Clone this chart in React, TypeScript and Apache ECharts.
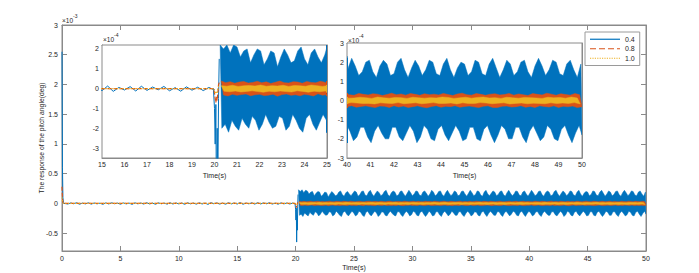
import React, { useEffect, useRef } from 'react';
import * as echarts from 'echarts';

// ---------------- data (values in units of 1e-4 deg) ----------------
const SERIES_NAMES = ['0.4', '0.8', '1.0'];

// initial transient at t = 0
const spikeT = [0, 0.04, 0.08, 0.12, 0.2];
const blueSpike = [25.5, 6, 1, 0.2, 0];
const orangeSpike = [2.8, 0.8, 0.2, 0, 0];
const yellowSpike = [1.0, 0.3, 0.1, 0, 0];

// quiet phase 0.25 .. 19.75 s (blue peaks, step 0.5 s)
const QUIET_START = 0.25;
const QUIET_STEP = 0.5;
const blueQuietUp = [0.05, 0.08, 0.12, 0.06, 0.1, 0.07, 0.04, 0.09, 0.11, 0.06, 0.08, 0.05, 0.1, 0.07, 0.12, 0.06, 0.09, 0.05, 0.11, 0.08, 0.07, 0.1, 0.06, 0.09, 0.05, 0.12, 0.08, 0.06, 0.1, 0.07, 0.13, 0.06, 0.1, 0.12, 0.08, 0.11, 0.05, 0.09, 0.07, 0.06];
const blueQuietLow = [-0.1, -0.06, -0.14, -0.08, -0.12, -0.07, -0.15, -0.09, -0.06, -0.13, -0.08, -0.16, -0.07, -0.11, -0.09, -0.14, -0.06, -0.12, -0.1, -0.08, -0.15, -0.07, -0.12, -0.09, -0.16, -0.06, -0.11, -0.13, -0.08, -0.1, -0.14, -0.07, -0.12, -0.09, -0.06, -0.11, -0.13, -0.08, -0.1, -0.07];
const flatQuietT = [0.2, 19.95];
const orangeQuiet = [0, 0];
const yellowQuiet = [0, 0];

// disturbance at t = 20 s
const transT = [19.95, 20.0, 20.03, 20.06, 20.09, 20.12, 20.15, 20.18, 20.21];
const blueTrans = [0, -1.0, -2.8, -0.8, -6.5, -2.0, -4.5, -0.5, 1.5];
const orangeTrans = [0, -0.2, -0.5, -0.7, -0.4, -0.6, -0.2, 0.2, 0.3];
const yellowTrans = [0, -0.1, -0.2, -0.25, -0.15, -0.2, 0, 0.1, 0.15];

// oscillation 20.25 .. 50 s : peak values of each cycle
const BLUE_OSC_START = 20.25;
const BLUE_OSC_STEP = 0.15;
const blueOscUp = [
  2.3, 2.0, 2.3, 1.8, 2.2, 2.1, 1.6, 1.9, 2.0, 1.3,
  1.7, 2.0, 1.9, 1.2, 1.5, 1.9, 1.8, 1.1, 1.6, 2.0,
  1.7, 1.3, 1.4, 1.9, 2.1, 1.5, 1.2, 1.8, 2.0, 1.6,
  1.3, 1.7, 2.1, 1.9, 1.2, 1.5, 2.0, 2.1, 1.4, 1.3,
  1.9, 2.2, 1.6, 1.2, 1.7, 2.1, 1.8, 1.3, 1.5, 2.0,
  2.2, 1.5, 1.2, 1.8, 2.1, 1.9, 1.3, 1.4, 2.0, 2.1,
  1.6, 1.2, 1.7, 2.2, 1.8, 1.3, 1.6, 2.1, 2.0, 1.4,
  1.3, 1.9, 2.1, 1.7, 1.2, 1.6, 2.2, 1.9, 1.3, 1.5,
  2.0, 2.1, 1.5, 1.2, 1.8, 2.2, 1.7, 1.3, 1.6, 2.1,
  1.9, 1.3, 1.4, 2.0, 2.1, 1.6, 1.2, 1.7, 2.2, 1.8,
  1.3, 1.5, 2.1, 2.0, 1.4, 1.2, 1.9, 2.2, 1.6, 1.3,
  1.7, 2.1, 1.9, 1.3, 1.5, 2.0, 2.1, 1.5, 1.2, 1.8,
  2.2, 1.7, 1.3, 1.6, 2.1, 2.0, 1.4, 1.3, 1.9, 2.1,
  1.6, 1.2, 1.7, 2.2, 1.8, 1.3, 1.5, 2.0, 2.1, 1.5,
  1.2, 1.8, 2.1, 1.9, 1.3, 1.4, 2.0, 2.2, 1.6, 1.2,
  1.7, 2.1, 1.8, 1.3, 1.6, 2.1, 2.0, 1.4, 1.3, 1.9,
  2.2, 1.6, 1.2, 1.7, 2.0, 1.9, 1.3, 1.5, 2.1, 2.0,
  1.4, 1.3, 1.9, 2.2, 1.7, 1.2, 1.6, 2.1, 1.9, 1.3,
  1.5, 2.0, 2.1, 1.5, 1.2, 1.8, 2.2, 1.8, 1.3, 1.6,
  2.1, 2.0, 1.4, 1.3, 1.9, 2.1, 1.6, 1.2, 1.9,
];
const blueOscLow = [
  -2.0, -1.8, -2.2, -1.6, -1.9, -2.1, -1.5, -1.8, -2.0, -1.4,
  -1.6, -2.1, -1.8, -1.3, -1.7, -2.0, -1.9, -1.4, -1.5, -2.1,
  -1.9, -1.3, -1.6, -2.0, -2.2, -1.5, -1.3, -1.8, -2.1, -1.7,
  -1.3, -1.6, -2.1, -1.9, -1.3, -1.5, -2.0, -2.2, -1.5, -1.3,
  -1.8, -2.1, -1.7, -1.3, -1.6, -2.2, -1.9, -1.4, -1.5, -2.0,
  -2.1, -1.6, -1.3, -1.7, -2.0, -2.1, -1.4, -1.4, -1.9, -2.2,
  -1.7, -1.3, -1.6, -2.1, -1.9, -1.3, -1.5, -2.0, -2.1, -1.5,
  -1.3, -1.8, -2.2, -1.8, -1.3, -1.6, -2.1, -2.0, -1.4, -1.4,
  -1.9, -2.2, -1.6, -1.3, -1.7, -2.1, -1.8, -1.3, -1.6, -2.0,
  -2.0, -1.4, -1.4, -1.9, -2.2, -1.7, -1.3, -1.6, -2.1, -1.9,
  -1.4, -1.5, -2.0, -2.1, -1.5, -1.3, -1.8, -2.2, -1.7, -1.3,
  -1.6, -2.0, -2.0, -1.4, -1.4, -1.9, -2.2, -1.6, -1.3, -1.7,
  -2.1, -1.8, -1.3, -1.5, -2.0, -2.1, -1.5, -1.3, -1.8, -2.2,
  -1.7, -1.3, -1.6, -2.1, -1.9, -1.4, -1.4, -1.9, -2.2, -1.6,
  -1.3, -1.7, -2.0, -2.0, -1.4, -1.4, -1.9, -2.1, -1.7, -1.3,
  -1.6, -2.2, -1.9, -1.3, -1.5, -2.0, -2.1, -1.5, -1.3, -1.8,
  -2.1, -1.7, -1.3, -1.6, -2.1, -2.0, -1.4, -1.4, -2.0, -2.1,
  -1.5, -1.3, -1.8, -2.2, -1.8, -1.3, -1.5, -2.0, -2.0, -1.4,
  -1.4, -1.9, -2.2, -1.6, -1.3, -1.7, -2.1, -1.9, -1.3, -1.5,
  -2.0, -2.1, -1.5, -1.3, -1.8, -2.2, -1.7, -1.3, -1.8,
];

const ORANGE_OSC_START = 20.3;
const ORANGE_OSC_STEP = 0.2;
const orangeOscUp = [
  0.38, 0.30, 0.35, 0.27, 0.33, 0.36, 0.28, 0.31, 0.37, 0.29,
  0.34, 0.26, 0.32, 0.38, 0.30, 0.28, 0.35, 0.33, 0.27, 0.36,
  0.31, 0.29, 0.37, 0.32, 0.26, 0.34, 0.36, 0.30, 0.28, 0.35,
  0.38, 0.27, 0.31, 0.33, 0.29, 0.36, 0.32, 0.26, 0.35, 0.37,
  0.30, 0.28, 0.34, 0.31, 0.27, 0.38, 0.33, 0.29, 0.32, 0.36,
  0.28, 0.35, 0.30, 0.27, 0.37, 0.31, 0.33, 0.29, 0.36, 0.34,
  0.26, 0.32, 0.38, 0.30, 0.28, 0.35, 0.31, 0.27, 0.34, 0.37,
  0.29, 0.33, 0.30, 0.36, 0.28, 0.32, 0.38, 0.31, 0.27, 0.35,
  0.33, 0.29, 0.36, 0.31, 0.26, 0.34, 0.37, 0.30, 0.28, 0.32,
  0.38, 0.27, 0.33, 0.35, 0.29, 0.31, 0.36, 0.28, 0.34, 0.30,
  0.27, 0.37, 0.32, 0.29, 0.35, 0.33, 0.26, 0.31, 0.38, 0.30,
  0.34, 0.28, 0.36, 0.32, 0.27, 0.35, 0.30, 0.33, 0.29, 0.37,
  0.31, 0.26, 0.34, 0.38, 0.30, 0.28, 0.36, 0.32, 0.27, 0.33,
  0.35, 0.29, 0.31, 0.37, 0.28, 0.34, 0.30, 0.26, 0.36, 0.32,
  0.29, 0.38, 0.33, 0.27, 0.35, 0.31, 0.28, 0.36, 0.30,
];
const orangeOscLow = [
  -0.32, -0.37, -0.28, -0.34, -0.30, -0.27, -0.36, -0.31, -0.29, -0.35,
  -0.33, -0.28, -0.38, -0.30, -0.27, -0.34, -0.31, -0.36, -0.29, -0.32,
  -0.37, -0.26, -0.33, -0.30, -0.35, -0.28, -0.32, -0.38, -0.27, -0.31,
  -0.29, -0.34, -0.36, -0.28, -0.31, -0.33, -0.27, -0.35, -0.30, -0.37,
  -0.31, -0.36, -0.27, -0.33, -0.38, -0.29, -0.32, -0.28, -0.35, -0.30,
  -0.34, -0.28, -0.32, -0.37, -0.30, -0.26, -0.35, -0.33, -0.29, -0.31,
  -0.36, -0.30, -0.27, -0.34, -0.32, -0.38, -0.29, -0.31, -0.35, -0.28,
  -0.30, -0.35, -0.33, -0.27, -0.36, -0.31, -0.28, -0.34, -0.37, -0.29,
  -0.27, -0.32, -0.38, -0.30, -0.29, -0.35, -0.33, -0.26, -0.31, -0.36,
  -0.33, -0.29, -0.31, -0.36, -0.28, -0.34, -0.37, -0.30, -0.32, -0.27,
  -0.35, -0.31, -0.28, -0.33, -0.37, -0.29, -0.30, -0.36, -0.27, -0.34,
  -0.29, -0.36, -0.32, -0.28, -0.34, -0.38, -0.31, -0.27, -0.35, -0.30,
  -0.32, -0.27, -0.35, -0.31, -0.29, -0.33, -0.37, -0.30, -0.28, -0.36,
  -0.37, -0.30, -0.29, -0.34, -0.32, -0.27, -0.35, -0.31, -0.36, -0.28,
  -0.31, -0.34, -0.28, -0.36, -0.30, -0.33, -0.29, -0.37, -0.32,
];

const YELLOW_OSC_START = 20.3;
const YELLOW_OSC_STEP = 0.25;
const yellowOscUp = [
  0.15, 0.12, 0.17, 0.11, 0.14, 0.16, 0.13, 0.18, 0.12, 0.15,
  0.13, 0.17, 0.11, 0.16, 0.14, 0.12, 0.18, 0.15, 0.11, 0.14,
  0.17, 0.13, 0.15, 0.12, 0.16, 0.18, 0.11, 0.14, 0.17, 0.13,
  0.12, 0.16, 0.14, 0.18, 0.11, 0.15, 0.13, 0.17, 0.12, 0.16,
  0.14, 0.11, 0.17, 0.13, 0.15, 0.12, 0.18, 0.14, 0.11, 0.16,
  0.18, 0.13, 0.12, 0.16, 0.14, 0.17, 0.11, 0.15, 0.13, 0.17,
  0.11, 0.15, 0.18, 0.12, 0.16, 0.13, 0.14, 0.17, 0.12, 0.15,
  0.16, 0.12, 0.14, 0.17, 0.11, 0.15, 0.18, 0.13, 0.16, 0.12,
  0.13, 0.17, 0.15, 0.11, 0.18, 0.14, 0.12, 0.16, 0.15, 0.11,
  0.17, 0.14, 0.12, 0.15, 0.13, 0.18, 0.16, 0.11, 0.14, 0.17,
  0.12, 0.16, 0.18, 0.13, 0.15, 0.11, 0.17, 0.14, 0.12, 0.16,
  0.15, 0.13, 0.11, 0.17, 0.14, 0.16, 0.12, 0.18, 0.13,
];
const yellowOscLow = [
  -0.13, -0.16, -0.12, -0.17, -0.14, -0.11, -0.15, -0.18, -0.13, -0.16,
  -0.12, -0.15, -0.17, -0.11, -0.14, -0.18, -0.13, -0.16, -0.12, -0.15,
  -0.17, -0.11, -0.14, -0.16, -0.13, -0.15, -0.18, -0.12, -0.14, -0.17,
  -0.11, -0.16, -0.13, -0.15, -0.18, -0.12, -0.14, -0.17, -0.11, -0.15,
  -0.16, -0.13, -0.18, -0.12, -0.15, -0.14, -0.11, -0.17, -0.16, -0.13,
  -0.14, -0.17, -0.12, -0.16, -0.11, -0.18, -0.15, -0.13, -0.17, -0.12,
  -0.15, -0.12, -0.16, -0.14, -0.17, -0.13, -0.11, -0.18, -0.14, -0.16,
  -0.18, -0.14, -0.11, -0.15, -0.13, -0.16, -0.17, -0.12, -0.15, -0.11,
  -0.13, -0.16, -0.15, -0.18, -0.12, -0.14, -0.16, -0.11, -0.17, -0.14,
  -0.12, -0.17, -0.14, -0.11, -0.16, -0.15, -0.13, -0.18, -0.12, -0.16,
  -0.16, -0.11, -0.13, -0.17, -0.14, -0.12, -0.18, -0.15, -0.13, -0.17,
  -0.14, -0.15, -0.17, -0.12, -0.16, -0.13, -0.15, -0.11, -0.18,
];

// tick labels
const mainXTicks = [0, 5, 10, 15, 20, 25, 30, 35, 40, 45, 50];
const mainYTicks = [-0.5, 0, 0.5, 1, 1.5, 2, 2.5, 3];
const inset1XTicks = [15, 16, 17, 18, 19, 20, 21, 22, 23, 24, 25];
const inset1YTicks = [-3, -2, -1, 0, 1, 2];
const inset2XTicks = [40, 41, 42, 43, 44, 45, 46, 47, 48, 49, 50];
const inset2YTicks = [-3, -2, -1, 0, 1, 2, 3];

// ---------------- helpers ----------------
const COLORS = ['#0072BD', '#D95319', '#EDB120'];
const LINE_TYPES: any[] = ['solid', [4, 2], [1.2, 1.5]];
const FONT = 'Liberation Sans';
const TXT = '#262626';
const AX = '#8a8a8a';

const LEGEND_ICONS = [
  'path://M0 0H30V1.2H0Z',
  'path://M0 0h6v1.2h-6zM9 0h6v1.2h-6zM18 0h6v1.2h-6zM27 0h3v1.2h-3z',
  'path://M0 0h1.2v1.2h-1.2zM2.4 0h1.2v1.2h-1.2zM4.8 0h1.2v1.2h-1.2zM7.2 0h1.2v1.2h-1.2zM9.6 0h1.2v1.2h-1.2zM12 0h1.2v1.2h-1.2zM14.4 0h1.2v1.2h-1.2zM16.8 0h1.2v1.2h-1.2zM19.2 0h1.2v1.2h-1.2zM21.6 0h1.2v1.2h-1.2zM24 0h1.2v1.2h-1.2zM26.4 0h1.2v1.2h-1.2zM28.8 0h1.2v1.2h-1.2z',
];

function pairs(ts: number[], vs: number[]) {
  return ts.map((t, i) => [t, vs[i]]);
}
function zigzag(start: number, step: number, up: number[], low: number[]) {
  const out: number[][] = [];
  for (let i = 0; i < up.length; i++) {
    const t = start + i * step;
    out.push([t, up[i]]);
    out.push([t + step / 2, low[i]]);
  }
  return out;
}

const blueLine = [
  ...pairs(spikeT, blueSpike),
  ...zigzag(QUIET_START, QUIET_STEP, blueQuietUp, blueQuietLow),
  ...pairs(transT, blueTrans),
];
const orangeLine = [
  ...pairs(spikeT, orangeSpike),
  ...pairs(flatQuietT, orangeQuiet),
  ...pairs(transT, orangeTrans),
];
const yellowLine = [
  ...pairs(spikeT, yellowSpike),
  ...pairs(flatQuietT, yellowQuiet),
  ...pairs(transT, yellowTrans),
];
const lines = [blueLine, orangeLine, yellowLine];
const bands = [
  { start: BLUE_OSC_START, step: BLUE_OSC_STEP, up: blueOscUp, low: blueOscLow },
  { start: ORANGE_OSC_START, step: ORANGE_OSC_STEP, up: orangeOscUp, low: orangeOscLow },
  { start: YELLOW_OSC_START, step: YELLOW_OSC_STEP, up: yellowOscUp, low: yellowOscLow },
];

function xAxis(gridIndex: number, min: number, max: number, ticks: number[], tickLen: number, margin: number, top = false, name = '', nameGap = 12) {
  return {
    type: 'value', gridIndex, min, max, position: top ? 'top' : 'bottom',
    name: top ? '' : name, nameLocation: 'middle', nameGap, nameMoveOverlap: false,
    nameTextStyle: { fontSize: 7, color: TXT, fontFamily: FONT },
    axisLine: { show: true, onZero: false, lineStyle: { color: AX, width: 1 } },
    axisTick: { show: true, inside: true, length: tickLen, customValues: ticks, lineStyle: { color: AX } },
    axisLabel: { show: !top, customValues: ticks, fontSize: 7, color: TXT, fontFamily: FONT, margin },
    splitLine: { show: false },
  };
}
function yAxis(gridIndex: number, min: number, max: number, ticks: number[], tickLen: number, margin: number, right = false, name = '') {
  return {
    type: 'value', gridIndex, min, max, position: right ? 'right' : 'left',
    name: right ? '' : name, nameLocation: 'middle', nameGap: 17, nameMoveOverlap: false,
    nameTextStyle: { fontSize: 6.8, color: TXT, fontFamily: FONT },
    axisLine: { show: true, onZero: false, lineStyle: { color: AX, width: 1 } },
    axisTick: { show: true, inside: true, length: tickLen, customValues: ticks, lineStyle: { color: AX } },
    axisLabel: { show: !right, customValues: ticks, fontSize: 7, color: TXT, fontFamily: FONT, margin },
    splitLine: { show: false },
  };
}

function makeSeries(gridIdx: number, k: number) {
  const out: any[] = [];
  lines.forEach((d, i) => {
    const b = bands[i];
    out.push({
      type: 'custom',
      name: SERIES_NAMES[i],
      coordinateSystem: 'cartesian2d',
      xAxisIndex: gridIdx,
      yAxisIndex: gridIdx,
      clip: true,
      silent: true,
      data: [[b.start, 0]],
      z: 2 + i * 2,
      renderItem: (params: any, api: any) => {
        const upper: number[][] = [];
        const lower: number[][] = [];
        for (let j = 0; j < b.up.length; j++) {
          const t = b.start + j * b.step;
          upper.push(api.coord([t, b.up[j] * k]));
          lower.push(api.coord([t + b.step / 2, b.low[j] * k]));
        }
        let pts = upper.concat(lower.reverse());
        const cs = params.coordSys;
        pts = pts.map(([x, y]) => [
          Math.min(Math.max(x, cs.x), cs.x + cs.width),
          Math.min(Math.max(y, cs.y), cs.y + cs.height),
        ]);
        return { type: 'polygon', shape: { points: pts }, style: { fill: COLORS[i], stroke: COLORS[i], lineWidth: 0.5 } };
      },
    });
    out.push({
      type: 'line',
      name: SERIES_NAMES[i],
      xAxisIndex: gridIdx,
      yAxisIndex: gridIdx,
      data: d.map(([t, v]) => [t, v * k]),
      showSymbol: false,
      symbol: 'none',
      clip: true,
      lineStyle: { color: COLORS[i], width: i === 0 ? 1 : 1.2, type: LINE_TYPES[i] },
      itemStyle: { color: COLORS[i] },
      silent: true,
      z: 3 + i * 2,
    });
  });
  return out;
}

function expText(x: number, y: number, exp: string) {
  return [
    { type: 'text', left: x, top: y, style: { text: '×10', fontSize: 6.5, fill: TXT, fontFamily: FONT } },
    { type: 'text', left: x + 11, top: y - 3.5, style: { text: exp, fontSize: 5, fill: TXT, fontFamily: FONT } },
  ];
}

const gridCommon = { show: true, borderColor: AX, borderWidth: 1, backgroundColor: '#fff', containLabel: false, outerBoundsMode: 'none' };

export default function App() {
  const ref = useRef<HTMLDivElement>(null);
  useEffect(() => {
    if (!ref.current) return;
    const chart = echarts.init(ref.current, undefined, { renderer: 'svg' });
    chart.setOption({
      animation: false,
      backgroundColor: '#fff',
      grid: [
        { ...gridCommon, left: 62, top: 25, width: 584, height: 226, z: 0 },
        { ...gridCommon, left: 102, top: 45, width: 225, height: 113, z: 1 },
        { ...gridCommon, left: 347, top: 43, width: 235, height: 115, z: 1 },
      ],
      xAxis: [
        xAxis(0, 0, 50, mainXTicks, 5, 4, false, 'Time(s)', 12.5),
        xAxis(1, 15, 25, inset1XTicks, 3, 3, false, 'Time(s)', 14),
        xAxis(2, 40, 50, inset2XTicks, 3, 3, false, 'Time(s)', 14),
        xAxis(0, 0, 50, mainXTicks, 5, 4, true),
        xAxis(1, 15, 25, inset1XTicks, 3, 3, true),
        xAxis(2, 40, 50, inset2XTicks, 3, 3, true),
      ],
      yAxis: [
        yAxis(0, -0.8, 3, mainYTicks, 5, 4, false, 'The response of the pitch angle(deg)'),
        yAxis(1, -3.5, 2.2, inset1YTicks, 3, 3),
        yAxis(2, -3, 3, inset2YTicks, 3, 3),
        yAxis(0, -0.8, 3, mainYTicks, 5, 4, true),
        yAxis(1, -3.5, 2.2, inset1YTicks, 3, 3, true),
        yAxis(2, -3, 3, inset2YTicks, 3, 3, true),
      ],
      legend: {
        data: SERIES_NAMES.map((n, i) => ({ name: n, icon: LEGEND_ICONS[i], itemStyle: { color: COLORS[i] } })),
        orient: 'vertical',
        left: 585,
        top: 32,
        padding: [3, 5, 3, 5],
        itemWidth: 30,
        itemHeight: 1.3,
        itemGap: 1,
        backgroundColor: '#fff',
        borderColor: '#9a9a9a',
        borderWidth: 1,
        textStyle: { fontSize: 7, color: TXT, fontFamily: FONT, lineHeight: 8.5 },
        selectedMode: false,
      },
      graphic: [
        ...expText(62, 17, '-3'),
        ...expText(103, 36, '-4'),
        ...expText(348, 36.5, '-4'),
      ],
      series: [
        ...makeSeries(0, 0.1),
        ...makeSeries(1, 1),
        ...makeSeries(2, 1),
      ],
    });
    return () => chart.dispose();
  }, []);
  return <div ref={ref} style={{ width: 699, height: 273, position: 'absolute', left: 0, top: 0 }} />;
}
